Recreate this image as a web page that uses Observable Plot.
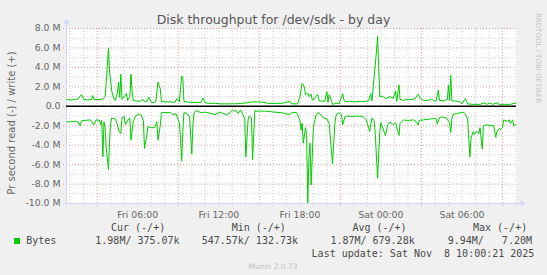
<!DOCTYPE html>
<html><head><meta charset="utf-8">
<script src="https://cdn.jsdelivr.net/npm/d3@7"></script>
<script src="https://cdn.jsdelivr.net/npm/@observablehq/plot@0.6"></script>
<style>
html,body{margin:0;padding:0;background:#f0f0f0;}
#chart{width:547px;height:275px;overflow:hidden;}
svg text{white-space:pre;}
</style></head><body><div id="chart"></div>
<script>
// ---- data (minutes since Fri Nov 7 2025 00:00, MB/s) ----
const writeSeries = [[45,0.7],[60,0.65],[80,0.7],[95,0.75],[110,1.2],[120,0.7],[140,0.65],[155,0.7],[160,1.1],[165,0.7],[195,0.7],[205,0.75],[215,1.0],[220,2.4],[230,6.0],[235,3.5],[245,1.5],[255,0.7],[260,0.6],[270,1.4],[275,2.5],[280,0.9],[285,3.3],[290,0.7],[300,1.0],[310,1.3],[315,0.6],[325,1.0],[330,3.3],[335,1.5],[340,0.6],[355,0.55],[370,0.5],[380,0.7],[390,0.5],[400,0.5],[410,0.95],[420,0.4],[435,0.4],[440,0.45],[450,2.5],[460,1.8],[465,0.5],[480,0.45],[505,0.45],[525,0.4],[535,0.8],[545,0.45],[555,3.1],[560,3.0],[565,0.5],[575,0.45],[595,0.4],[615,0.4],[640,0.4],[650,0.85],[660,0.35],[680,0.3],[705,0.3],[725,0.25],[750,0.25],[770,0.25],[790,0.25],[815,0.28],[840,0.35],[870,0.45],[895,0.45],[920,0.4],[940,0.3],[970,0.3],[1000,0.3],[1035,0.5],[1045,0.25],[1070,0.25],[1080,1.0],[1090,2.35],[1100,2.0],[1105,1.2],[1115,1.35],[1120,1.0],[1130,1.25],[1135,0.65],[1145,0.75],[1150,1.0],[1160,1.2],[1165,0.55],[1175,0.55],[1190,0.5],[1200,1.5],[1205,0.4],[1210,1.2],[1220,0.6],[1225,0.2],[1240,0.3],[1255,0.3],[1270,1.3],[1275,0.7],[1280,0.5],[1305,0.5],[1325,0.45],[1350,0.5],[1370,0.5],[1385,0.55],[1395,1.3],[1400,0.55],[1420,5.6],[1425,7.2],[1435,1.0],[1445,1.05],[1460,0.8],[1480,1.0],[1495,0.8],[1505,1.6],[1510,0.5],[1520,2.2],[1525,0.7],[1540,0.6],[1555,0.73],[1570,0.7],[1590,0.75],[1605,1.25],[1615,0.8],[1630,0.6],[1650,0.6],[1665,0.75],[1675,0.55],[1685,0.55],[1695,1.65],[1700,0.6],[1715,0.55],[1735,0.7],[1740,2.2],[1745,0.6],[1750,3.2],[1755,0.55],[1770,0.55],[1790,0.45],[1800,0.25],[1815,0.8],[1825,0.25],[1845,0.2],[1880,0.2],[1900,0.35],[1910,0.2],[1925,0.35],[1935,0.2],[1955,0.35],[1965,0.2],[1995,0.2],[2015,0.2],[2040,0.35]];

const readSeries = [[45,-1.6],[60,-1.6],[80,-1.55],[95,-1.6],[105,-2.0],[110,-1.5],[125,-1.45],[150,-1.4],[165,-1.9],[175,-1.4],[190,-1.45],[195,-1.9],[200,-1.45],[205,-5.2],[210,-1.6],[215,-2.2],[220,-4.3],[230,-6.5],[235,-3.4],[240,-1.7],[245,-1.2],[260,-1.3],[270,-1.9],[275,-2.5],[285,-2.8],[290,-1.2],[300,-1.05],[305,-1.9],[320,-1.3],[325,-1.2],[330,-3.5],[340,-1.55],[350,-1.0],[365,-0.8],[375,-0.9],[385,-1.5],[390,-4.35],[400,-3.0],[405,-2.1],[420,-2.2],[435,-2.2],[445,-1.6],[450,-3.5],[460,-2.0],[465,-0.65],[480,-0.65],[505,-0.65],[520,-0.9],[530,-0.75],[545,-1.7],[550,-3.4],[555,-5.65],[560,-2.6],[565,-0.65],[580,-0.75],[590,-1.1],[600,-4.9],[605,-2.0],[610,-0.65],[620,-0.45],[640,-0.65],[660,-0.6],[705,-0.85],[725,-0.6],[755,-0.9],[770,-0.65],[780,-0.4],[790,-0.5],[795,-0.4],[805,-0.75],[815,-0.4],[820,-0.5],[835,-1.3],[840,-5.2],[850,-1.4],[855,-1.0],[865,-1.2],[870,-5.5],[880,-0.45],[885,-0.5],[905,-0.5],[925,-0.5],[950,-0.55],[965,-0.6],[995,-0.65],[1015,-0.75],[1035,-0.85],[1045,-0.65],[1065,-0.65],[1080,-1.4],[1085,-2.45],[1090,-1.75],[1095,-3.8],[1105,-2.2],[1110,-2.9],[1115,-9.94],[1120,-5.5],[1125,-3.8],[1130,-8.1],[1140,-2.2],[1145,-1.6],[1150,-1.0],[1160,-0.65],[1170,-0.8],[1185,-1.2],[1200,-1.3],[1210,-1.75],[1225,-5.9],[1235,-1.9],[1240,-1.0],[1250,-0.65],[1265,-0.9],[1270,-1.9],[1280,-1.1],[1290,-1.0],[1315,-1.05],[1335,-1.0],[1360,-1.05],[1375,-1.4],[1390,-2.6],[1400,-1.2],[1410,-1.5],[1415,-2.9],[1425,-7.4],[1435,-2.6],[1440,-1.7],[1460,-3.0],[1470,-1.9],[1480,-1.6],[1495,-1.9],[1505,-1.7],[1515,-2.6],[1520,-3.0],[1525,-1.75],[1540,-1.4],[1555,-1.45],[1565,-1.45],[1585,-1.4],[1600,-1.65],[1605,-1.95],[1610,-1.45],[1630,-1.4],[1660,-1.3],[1685,-1.25],[1690,-1.85],[1700,-1.15],[1715,-1.1],[1730,-1.2],[1745,-1.7],[1750,-2.7],[1755,-1.3],[1760,-0.85],[1775,-0.75],[1795,-0.65],[1805,-0.6],[1815,-0.8],[1825,-1.3],[1830,-3.3],[1835,-5.2],[1840,-3.3],[1850,-2.6],[1855,-2.9],[1865,-2.55],[1875,-2.8],[1880,-2.2],[1890,-4.4],[1895,-2.0],[1910,-1.9],[1925,-2.0],[1940,-1.95],[1950,-3.2],[1955,-2.6],[1965,-2.3],[1970,-2.4],[1980,-2.2],[1985,-1.4],[2000,-1.55],[2010,-1.4],[2015,-1.75],[2025,-1.4],[2030,-2.0],[2040,-1.9]];

const yTicks = [-10, -8, -6, -4, -2, 0, 2, 4, 6, 8];
const yTickLabels = ["-10.0 M", "-8.0 M", "-6.0 M", "-4.0 M", "-2.0 M", "0.0", "2.0 M", "4.0 M", "6.0 M", "8.0 M"];
const yMinor = [-9, -7, -5, -3, -1, 1, 3, 5, 7];
const xTickHours = [6, 12, 18, 24, 30];
const xTickLabels = ["Fri 06:00", "Fri 12:00", "Fri 18:00", "Sat 00:00", "Sat 06:00"];
const xMajorHours = [3, 9, 15, 21, 27, 33];
const xMinorHours = d3.range(1, 35).filter(h => h % 6 !== 3);
const xDomainMinutes = [43.6, 2042];

const title = "Disk throughput for /dev/sdk - by day";
const yLabel = "Pr second read (-) / write (+)";
const sideText = "RRDTOOL / TOBI OETIKER";
const legendHeaders = ["Cur (-/+)", "Min (-/+)", "Avg (-/+)", "Max (-/+)"];
const legendName = "Bytes";
const legendValues = ["1.98M/ 375.07k", "547.57k/ 132.73k", "1.87M/ 679.28k", "9.94M/   7.20M"];
const lastUpdate = "Last update: Sat Nov  8 10:00:21 2025";
const footer = "Munin 2.0.73";

// ---- drawing ----
const base = Date.UTC(2025, 10, 7);
const toDate = m => new Date(base + m * 60000);
const W = 547, H = 275, mL = 66, mR = 31, mT = 28, mB = 72;
const green = "#00cc00", axisC = "#cfd6f8", minorC = "#cfcfcf", majorC = "#f09a9a", fontC = "#666666";

const plot = Plot.plot({
  width: W, height: H,
  marginLeft: mL, marginRight: mR, marginTop: mT, marginBottom: mB,
  style: {background: "transparent", fontFamily: "DejaVu Sans", fontSize: "9.3px", color: fontC, overflow: "visible"},
  x: {type: "utc", domain: xDomainMinutes.map(toDate), axis: null},
  y: {domain: [-10, 8], axis: null},
  marks: [
    Plot.frame({fill: "white", stroke: "none"}),
    Plot.ruleY(yMinor, {stroke: minorC, strokeDasharray: "1,2", insetLeft: -3}),
    Plot.ruleX(xMinorHours, {x: h => toDate(h * 60), stroke: minorC, strokeDasharray: "1,2", insetBottom: -3}),
    Plot.ruleY(yTicks, {stroke: majorC, strokeDasharray: "1,2", insetLeft: -3}),
    Plot.ruleX(xMajorHours, {x: h => toDate(h * 60), stroke: majorC, strokeDasharray: "1,2", insetBottom: -3}),
    Plot.ruleY([-10], {stroke: axisC, insetLeft: -3, insetRight: -4}),
    Plot.ruleX([xDomainMinutes[0]], {x: toDate, stroke: axisC, insetTop: -5, insetBottom: -3}),
    Plot.text(yTicks, {y: d => d, text: (d, i) => yTickLabels[i], frameAnchor: "left", textAnchor: "end", dx: -6, fill: fontC}),
    Plot.text(xTickHours, {x: h => toDate(h * 60), text: (d, i) => xTickLabels[i], frameAnchor: "bottom", lineAnchor: "top", dy: 8, fill: fontC}),
    Plot.line(writeSeries, {x: d => toDate(d[0]), y: d => d[1], stroke: green, strokeWidth: 1}),
    Plot.line(readSeries, {x: d => toDate(d[0]), y: d => d[1], stroke: green, strokeWidth: 1}),
    Plot.ruleY([0], {stroke: "#000", strokeWidth: 1.5})
  ]
});

const svg = d3.select(plot);
// arrows
const yTop = mT - 5, xRight = W - mR + 4;
svg.append("path").attr("d", `M${mL - 2.5},${yTop + 0.5} L${mL + 3.5},${yTop + 0.5} L${mL + 0.5},${yTop - 4.5} Z`).attr("fill", axisC);
svg.append("path").attr("d", `M${xRight + 0.5},${H - mB - 2.5} L${xRight + 0.5},${H - mB + 3.5} L${xRight + 5.5},${H - mB + 0.5} Z`).attr("fill", axisC);

const txt = (s, x, y, opts = {}) => svg.append("text").text(s)
  .attr("x", x).attr("y", y)
  .attr("font-family", opts.family || "DejaVu Sans")
  .attr("font-size", opts.size || 10)
  .attr("fill", opts.fill || fontC)
  .attr("text-anchor", opts.anchor || "start")
  .attr("transform", opts.rotate ? `rotate(${opts.rotate},${x},${y})` : null);

txt(title, 273.5, 24, {size: 12.5, anchor: "middle", fill: "#555"});
txt(yLabel, 14.5, 123, {size: 10, anchor: "middle", rotate: -90});
txt(sideText, 535.5, 13, {size: 7, fill: "#c4c4c4", rotate: 90});

const mono = {family: "DejaVu Sans Mono", size: 10, fill: "#4a4a4a"};
const headerX = [111, 231.7, 352.4, 473];
legendHeaders.forEach((s, i) => txt(s, headerX[i], 231, mono));
svg.append("rect").attr("x", 14).attr("y", 238).attr("width", 6).attr("height", 6).attr("fill", green);
txt(legendName, 26.2, 244.3, mono);
const valX = [95.3, 201.7, 330.4, 447.7];
legendValues.forEach((s, i) => txt(s, valX[i], 244.3, mono));
txt(lastUpdate, 311.6, 257, mono);
txt(footer, 273, 268.8, {size: 7.5, anchor: "middle", fill: "#c0c0c0"});

document.getElementById("chart").appendChild(plot);
</script>
</body></html>
